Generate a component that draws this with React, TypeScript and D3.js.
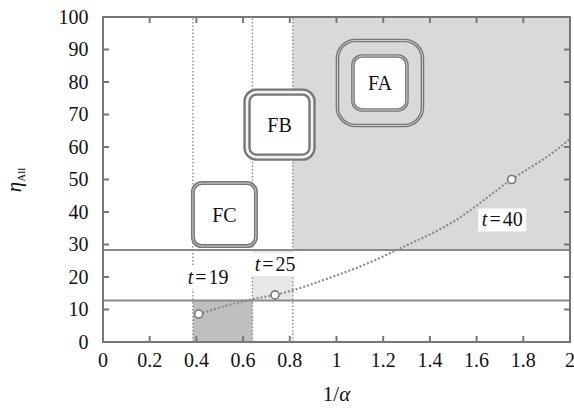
import React from "react";
import * as d3 from "d3";

// ---- data ----
const xTicks = [0, 0.2, 0.4, 0.6, 0.8, 1, 1.2, 1.4, 1.6, 1.8, 2];
const yTicks = [0, 10, 20, 30, 40, 50, 60, 70, 80, 90, 100];
const vLines = [0.385, 0.64, 0.813];
const hLines = [12.8, 28.3];
const curveX = [0.41, 0.64, 0.737, 1.0, 1.14, 1.26, 1.5, 1.75, 1.94, 2.0];
const curveY = [8.6, 13.2, 14.5, 20.5, 24.4, 28.4, 37, 50, 59, 62.5];
const pointX = [0.41, 0.737, 1.75];
const pointY = [8.6, 14.5, 50];
const tLabels = ["t=19", "t=25", "t=40"];
const tLabelX = [0.45, 0.737, 1.71];
const tLabelY = [20, 24, 37.7];
const boxNames = ["FA", "FB", "FC"];
const boxX = [1.186, 0.756, 0.52];
const boxY = [79.7, 66.9, 39.2];

const W = 574, H = 408;
const L = 103, R = 570, T = 17, B = 342;
const GRAY = "#777";
const FONT = "Liberation Serif, Times New Roman, serif";

export default function App() {
  const x = d3.scaleLinear().domain([0, 2]).range([L, R]);
  const y = d3.scaleLinear().domain([0, 100]).range([B, T]);
  const line = d3
    .line<number>()
    .x((_, i) => x(curveX[i]))
    .y((d) => y(d))
    .curve(d3.curveMonotoneX);

  const dblRect = (cx: number, cy: number, s: number, r: number, fill: string, key: string, w = 3.6) => (
    <g key={key}>
      <rect x={cx - s / 2} y={cy - s / 2} width={s} height={s} rx={r} fill={fill} stroke={GRAY} strokeWidth={w} />
      <rect x={cx - s / 2} y={cy - s / 2} width={s} height={s} rx={r} fill="none" stroke="#cfcfcf" strokeWidth={1} />
    </g>
  );

  const ts = { fontFamily: FONT } as React.CSSProperties;

  return (
    <svg width={W} height={H} style={{ position: "absolute", left: 0, top: 0, background: "#fff", fontFamily: FONT }}>
      {/* regions */}
      <rect x={x(0.813)} y={y(100)} width={x(2) - x(0.813)} height={y(hLines[1]) - y(100)} fill="#d9d9d9" />
      <rect x={x(0.385)} y={y(hLines[0])} width={x(0.64) - x(0.385)} height={y(0) - y(hLines[0])} fill="#bfbfbf" />
      <rect x={x(0.64)} y={y(hLines[1])} width={x(0.813) - x(0.64)} height={y(hLines[0]) - y(hLines[1])} fill="#e8e8e8" />
      {/* vertical dotted lines */}
      {vLines.map((v, i) => (
        <line key={i} x1={x(v)} x2={x(v)} y1={y(0)} y2={y(100)} stroke="#8a8a8a" strokeWidth={1.4} strokeDasharray="1.5,2" />
      ))}
      {/* horizontal lines */}
      {hLines.map((h, i) => (
        <line key={i} x1={x(0)} x2={x(2)} y1={y(h)} y2={y(h)} stroke="#8a8a8a" strokeWidth={2} />
      ))}
      {/* boxes */}
      {(() => {
        const fa = [x(boxX[0]), y(boxY[0])];
        const fb = [x(boxX[1]), y(boxY[1])];
        const fc = [x(boxX[2]), y(boxY[2])];
        return (
          <g>
            {dblRect(fa[0], fa[1], 85, 18, "none", "fa1", 3.6)}
            {dblRect(fa[0], fa[1], 54, 9, "#fff", "fa2", 3.6)}
            <rect x={fb[0] - 35} y={fb[1] - 35} width={70} height={70} rx={12} fill="#f2f2f2" stroke={GRAY} strokeWidth={2.4} />
            <rect x={fb[0] - 30} y={fb[1] - 30} width={60} height={60} rx={7} fill="#fff" stroke={GRAY} strokeWidth={2.4} />
            {dblRect(fc[0], fc[1], 63, 9, "#fff", "fc1", 4)}
            {boxNames.map((n, i) => (
              <text key={n} x={x(boxX[i])} y={y(boxY[i])} dy="0.35em" textAnchor="middle" fontSize={20} fill="#111" style={ts}>
                {n}
              </text>
            ))}
          </g>
        );
      })()}
      {/* curve */}
      <path d={line(curveY) || ""} fill="none" stroke="#8a8a8a" strokeWidth={2.2} strokeDasharray="2,2" />
      {pointX.map((px, i) => (
        <circle key={i} cx={x(px)} cy={y(pointY[i])} r={4} fill="#fff" stroke="#777" strokeWidth={1.6} />
      ))}
      {/* t labels */}
      {tLabels.map((t, i) => {
        const cx = x(tLabelX[i]);
        const cy = y(tLabelY[i]);
        const [a, b] = t.split("=");
        return (
          <g key={t}>
            <rect x={cx - 24} y={cy - 11} width={48} height={23} fill="#fff" />
            <text x={cx} y={cy} dy="0.35em" textAnchor="middle" fontSize={20} fill="#111" style={ts}>
              <tspan fontStyle="italic">{a}</tspan>
              <tspan dx={2}>=</tspan>
              <tspan dx={2}>{b}</tspan>
            </text>
          </g>
        );
      })}
      {/* ticks */}
      {xTicks.map((t, i) => (
        <g key={"xt" + i}>
          <line x1={x(t)} x2={x(t)} y1={B} y2={B - 6} stroke={GRAY} strokeWidth={2} />
          <line x1={x(t)} x2={x(t)} y1={T} y2={T + 6} stroke={GRAY} strokeWidth={2} />
          <text x={x(t)} y={367} textAnchor="middle" fontSize={20} fill="#111" style={ts}>
            {t}
          </text>
        </g>
      ))}
      {yTicks.map((t, i) => (
        <g key={"yt" + i}>
          <line x1={L} x2={L + 6} y1={y(t)} y2={y(t)} stroke={GRAY} strokeWidth={2} />
          <line x1={R} x2={R - 6} y1={y(t)} y2={y(t)} stroke={GRAY} strokeWidth={2} />
          <text x={88.5} y={y(t)} dy="0.33em" textAnchor="end" fontSize={20} fill="#111" style={ts}>
            {t}
          </text>
        </g>
      ))}
      {/* frame */}
      <rect x={L} y={T} width={R - L} height={B - T} fill="none" stroke={GRAY} strokeWidth={2} />
      {/* axis titles */}
      <text x={(L + R) / 2} y={401} textAnchor="middle" fontSize={21} fill="#111" style={ts}>
        1/<tspan fontStyle="italic">α</tspan>
      </text>
      <text transform="translate(21,180) rotate(-90)" textAnchor="middle" fontSize={21} fill="#111" style={ts}>
        <tspan fontStyle="italic">η</tspan>
        <tspan fontSize={11} dy="4">All</tspan>
      </text>
    </svg>
  );
}
